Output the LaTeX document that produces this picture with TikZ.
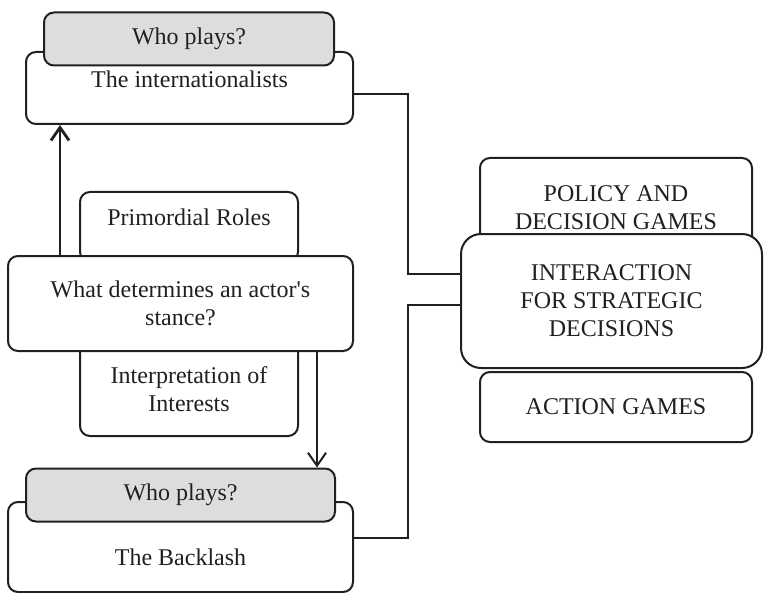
\documentclass[tikz,border=0pt]{standalone}
\usepackage{fontspec}
\setmainfont{Liberation Serif}
\usepackage{tikz}
\usetikzlibrary{arrows.meta}
\usepackage{xcolor}
\definecolor{inkc}{RGB}{35,31,32}
\definecolor{whoc}{RGB}{221,221,223}
\tikzset{
  box/.style={rectangle,rounded corners=5pt,draw=inkc,line width=1pt,fill=white,inner sep=0pt,align=center,font=\fontsize{12}{14}\selectfont,text=inkc},
  who/.style={box,fill=whoc,minimum height=26.5pt},
  game/.style={box,minimum width=136pt},
  link/.style={line width=1pt,inkc},
  stance/.style={-{Straight Barb[length=6.5pt,width=9pt]},line width=1pt,inkc},
}

\begin{document}
\begin{tikzpicture}[x=0.5pt,y=-0.5pt]
  \useasboundingbox (0,0) rectangle (764,593);
  % actors on the left
  \node[box,minimum width=163.5pt,text height=18pt,text depth=18pt](intl) at (189.5,88){The internationalists};
  \node[who,minimum width=145pt](who1) at (189,39){Who plays?};
  \node[box,minimum width=109pt,text height=16.5pt,text depth=18.5pt](prim) at (189,227){Primordial Roles};
  \node[box,minimum width=109pt,minimum height=47pt](interp) at (189,389){Interpretation of\\Interests};
  \node[box,minimum width=172.5pt,minimum height=47.5pt](stance) at (180.5,303.5){What determines an actor\textquotesingle s\\stance?};
  \node[box,minimum width=172.5pt,text height=31.5pt,text depth=13.5pt](back) at (180.5,547){The Backlash};
  \node[who,minimum width=154.5pt](who2) at (180.5,495){Who plays?};
  % games on the right
  \node[game,minimum height=50pt](policy) at (616,208){POLICY AND\\DECISION GAMES};
  \node[box,rounded corners=10pt,minimum width=150.5pt,minimum height=67pt](inter) at (611.5,301){INTERACTION\\FOR STRATEGIC\\DECISIONS};
  \node[game,minimum height=35pt](action) at (616,407){ACTION GAMES};
  % arrows out of the stance box
  \draw[stance,line width=1.4pt] ([xshift=26.5pt]stance.north west) coordinate (up) -- (up |- intl.south);
  \draw[stance] ([xshift=-18.5pt]stance.south east) coordinate (dn) -- (dn |- who2.north);
  % both actors feed the interaction
  \draw[link] ([yshift=-3pt]intl.east) -- ++(27pt,0) |- ([yshift=13.5pt]inter.west);
  \draw[link] ([yshift=4.5pt]back.east) -- ++(27pt,0) |- ([yshift=-2pt]inter.west);
\end{tikzpicture}
\end{document}
